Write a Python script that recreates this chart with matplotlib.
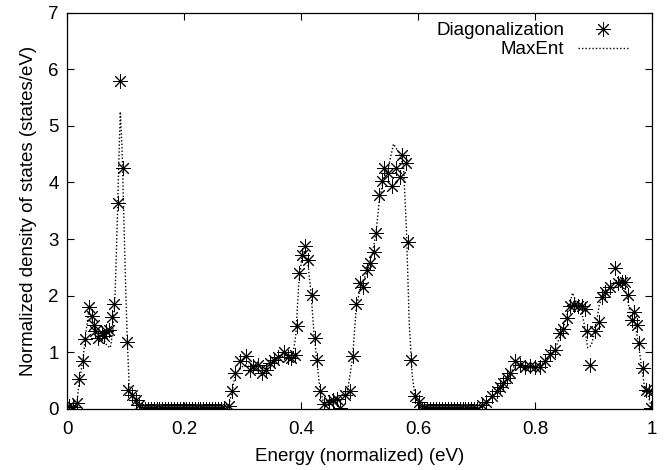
import numpy as np
import matplotlib
matplotlib.use("Agg")
import matplotlib.pyplot as plt

plt.rcParams['font.family'] = ['Liberation Sans', 'DejaVu Sans']
plt.rcParams['font.size'] = 13.5

# Diagonalization points (energy, DOS)
diag_x = [0.003, 0.011, 0.017, 0.021, 0.027, 0.031, 0.037, 0.042, 0.046, 0.048,
          0.053, 0.059, 0.063, 0.067, 0.071, 0.077, 0.081, 0.087, 0.091, 0.096,
          0.103, 0.105, 0.111, 0.117, 0.123,
          0.128, 0.133, 0.138, 0.143, 0.148, 0.153, 0.158, 0.163, 0.168, 0.173,
          0.178, 0.183, 0.188, 0.193, 0.198, 0.203, 0.208, 0.213, 0.218, 0.223,
          0.228, 0.233, 0.238, 0.243, 0.248, 0.253, 0.258, 0.263, 0.268,
          0.276, 0.282, 0.287, 0.295, 0.306, 0.313, 0.318, 0.327, 0.333, 0.340,
          0.347, 0.353, 0.361, 0.370, 0.377, 0.382, 0.389, 0.393, 0.397, 0.401,
          0.407, 0.412, 0.418, 0.423, 0.428, 0.432, 0.440, 0.447, 0.454, 0.461,
          0.467, 0.475, 0.483, 0.488, 0.494, 0.501, 0.506, 0.512, 0.518, 0.524,
          0.528, 0.534, 0.538, 0.542, 0.549, 0.555, 0.562, 0.569, 0.572, 0.579,
          0.582, 0.588, 0.595, 0.601,
          0.606, 0.611, 0.616, 0.621, 0.626, 0.631, 0.636, 0.641, 0.646, 0.651,
          0.656, 0.661, 0.666, 0.671, 0.676, 0.681, 0.686, 0.691, 0.696, 0.701,
          0.709, 0.717, 0.726, 0.735, 0.740, 0.746, 0.752, 0.757, 0.766, 0.774,
          0.783, 0.791, 0.800, 0.809, 0.817, 0.826, 0.834, 0.843, 0.848, 0.854,
          0.860, 0.867, 0.873, 0.880, 0.885, 0.888, 0.894, 0.903, 0.909, 0.914,
          0.920, 0.928, 0.936, 0.942, 0.948, 0.954, 0.959, 0.965, 0.969, 0.975,
          0.978, 0.985, 0.990, 0.994, 0.999]
diag_y = [0.05, 0.04, 0.11, 0.53, 0.85, 1.24, 1.80, 1.64, 1.48, 1.38,
          1.26, 1.34, 1.29, 1.37, 1.40, 1.63, 1.86, 3.63, 5.80, 4.25,
          1.18, 0.34, 0.25, 0.16, 0.07,
          0.0, 0.0, 0.0, 0.0, 0.0, 0.0, 0.0, 0.0, 0.0, 0.0,
          0.0, 0.0, 0.0, 0.0, 0.0, 0.0, 0.0, 0.0, 0.0, 0.0,
          0.0, 0.0, 0.0, 0.0, 0.0, 0.0, 0.0, 0.0, 0.0,
          0.05, 0.32, 0.63, 0.85, 0.94, 0.68, 0.75, 0.78, 0.63, 0.69,
          0.81, 0.87, 0.92, 1.01, 0.92, 0.90, 0.95, 1.47, 2.40, 2.72,
          2.87, 2.63, 2.01, 1.25, 0.87, 0.31, 0.09, 0.13, 0.16, 0.17,
          0.02, 0.25, 0.31, 0.94, 1.86, 2.22, 2.16, 2.46, 2.57, 2.78,
          3.10, 3.78, 4.02, 4.25, 4.16, 3.94, 4.25, 4.10, 4.49, 4.34,
          2.94, 0.87, 0.23, 0.13,
          0.0, 0.0, 0.0, 0.0, 0.0, 0.0, 0.0, 0.0, 0.0, 0.0,
          0.0, 0.0, 0.0, 0.0, 0.0, 0.0, 0.0, 0.0, 0.0, 0.0,
          0.07, 0.13, 0.22, 0.31, 0.39, 0.45, 0.54, 0.63, 0.84, 0.78,
          0.74, 0.76, 0.74, 0.74, 0.84, 0.97, 1.04, 1.34, 1.41, 1.60,
          1.82, 1.84, 1.81, 1.82, 1.76, 1.38, 0.78, 1.38, 1.54, 1.98,
          2.07, 2.16, 2.49, 2.22, 2.25, 2.25, 2.01, 1.57, 1.72, 1.48,
          1.16, 0.72, 0.34, 0.31, 0.01]

# MaxEnt curve
maxent_x = [0.0, 0.011, 0.017, 0.021, 0.027, 0.031, 0.037, 0.042, 0.046, 0.053,
            0.059, 0.063, 0.068, 0.074, 0.078, 0.082, 0.085, 0.088, 0.091, 0.094,
            0.097, 0.100, 0.103, 0.106, 0.111, 0.117, 0.125, 0.135, 0.270,
            0.276, 0.282, 0.287, 0.295, 0.306, 0.318, 0.333, 0.347, 0.361, 0.375,
            0.386, 0.391, 0.396, 0.401, 0.406, 0.411, 0.417, 0.422, 0.427, 0.432,
            0.438, 0.447, 0.460, 0.470, 0.480, 0.488, 0.494, 0.501, 0.512, 0.522,
            0.528, 0.534, 0.542, 0.550, 0.558, 0.566, 0.575, 0.580, 0.585, 0.590,
            0.595, 0.602, 0.610, 0.700,
            0.709, 0.717, 0.735, 0.752, 0.766, 0.783, 0.800, 0.817, 0.834, 0.848,
            0.857, 0.864, 0.870, 0.878, 0.884, 0.890, 0.896, 0.903, 0.910, 0.920,
            0.930, 0.940, 0.950, 0.957, 0.963, 0.970, 0.976, 0.982, 0.987, 0.993,
            0.998, 1.0]
maxent_y = [0.02, 0.04, 0.12, 0.50, 0.85, 1.25, 1.72, 1.62, 1.48, 1.30,
            1.30, 1.22, 1.12, 1.08, 1.35, 2.00, 3.00, 4.20, 5.25, 4.60,
            3.40, 2.20, 1.20, 0.45, 0.22, 0.10, 0.02, 0.0, 0.0,
            0.05, 0.30, 0.58, 0.72, 0.78, 0.70, 0.72, 0.82, 0.90, 0.95,
            0.95, 1.30, 2.20, 2.65, 2.80, 2.65, 2.05, 1.35, 0.85, 0.38,
            0.12, 0.12, 0.15, 0.20, 0.35, 0.90, 1.75, 2.15, 2.40, 2.75,
            3.10, 3.70, 4.10, 4.30, 4.68, 4.55, 4.30, 3.20, 1.50, 0.60,
            0.20, 0.05, 0.0, 0.0,
            0.05, 0.12, 0.30, 0.52, 0.78, 0.75, 0.74, 0.83, 1.05, 1.42,
            1.75, 2.05, 1.90, 1.80, 1.50, 1.08, 1.12, 1.40, 1.85, 2.07,
            2.20, 2.27, 2.25, 2.00, 1.65, 1.55, 1.20, 0.75, 0.40, 0.25,
            0.05, 0.0]

fig = plt.figure(figsize=(6.64, 4.70), dpi=100)
ax = fig.add_axes([0.101, 0.130, 0.881, 0.843])

ax.plot(diag_x, diag_y, linestyle='none', marker=(8, 2, 0), markersize=10.5,
        markeredgewidth=0.7, color='black', label='Diagonalization')
ax.plot(maxent_x, maxent_y, linestyle=(0, (1, 1.5)), linewidth=1.0,
        color='black', label='MaxEnt')

ax.set_xlim(0, 1)
ax.set_ylim(0, 7)
ax.set_xticks([0, 0.2, 0.4, 0.6, 0.8, 1])
ax.set_xticklabels(['0', '0.2', '0.4', '0.6', '0.8', '1'])
ax.set_yticks(range(8))
ax.tick_params(direction='in', length=5, width=0.8, top=True, right=True,
               labelsize=13.5)
ax.tick_params(axis='x', pad=9)
ax.tick_params(axis='y', pad=6)
for s in ax.spines.values():
    s.set_linewidth(0.9)

ax.set_xlabel('Energy (normalized) (eV)', fontsize=13.5, labelpad=7)
ax.set_ylabel('Normalized density of states (states/eV)', fontsize=13.5,
              labelpad=8)

ax.legend(loc='upper right', bbox_to_anchor=(0.972, 0.995),
          markerfirst=False, frameon=False, fontsize=13.5,
          handlelength=2.7, handletextpad=0.7, labelspacing=0.1,
          borderaxespad=0.0)

fig.savefig('out.png', dpi=100)
